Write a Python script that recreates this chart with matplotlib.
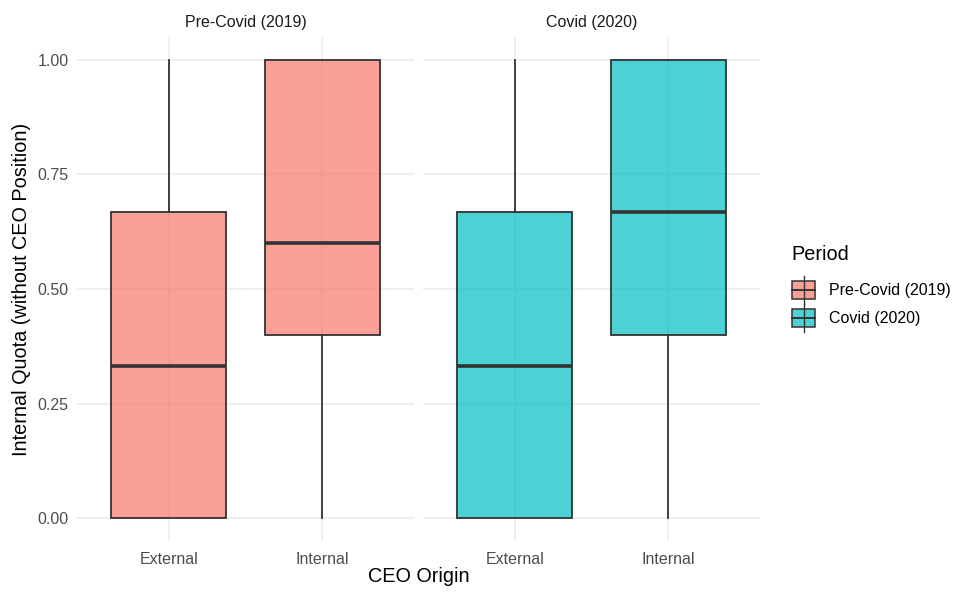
import matplotlib
matplotlib.use("Agg")
import matplotlib.pyplot as plt
from matplotlib.patches import Rectangle
from matplotlib.lines import Line2D

plt.rcParams['font.family'] = ['Liberation Sans', 'DejaVu Sans']

periods = ["Pre-Covid (2019)", "Covid (2020)"]
categories = ["External", "Internal"]
colors = ["#F8766D", "#00BFC4"]
# stats per period per category: whislo, q1, med, q3, whishi
whislo = [[0.0, 0.0], [0.0, 0.0]]
q1 = [[0.0, 0.4], [0.0, 0.4]]
med = [[0.333, 0.6], [0.333, 0.667]]
q3 = [[0.667, 1.0], [0.667, 1.0]]
whishi = [[1.0, 1.0], [1.0, 1.0]]
yticks = [0.0, 0.25, 0.50, 0.75, 1.00]
ytick_labels = ["0.00", "0.25", "0.50", "0.75", "1.00"]

W, H = 954, 592
fig = plt.figure(figsize=(W / 100, H / 100), dpi=100)

panels = [(77, 414), (423, 760)]
top, bottom = 37, 541
edge = "#333333"
grid = "#EBEBEB"
for i, (l, r) in enumerate(panels):
    ax = fig.add_axes([l / W, 1 - bottom / H, (r - l) / W, (bottom - top) / H])
    stats = []
    for j in range(len(categories)):
        stats.append(dict(whislo=whislo[i][j], q1=q1[i][j], med=med[i][j],
                          q3=q3[i][j], whishi=whishi[i][j], fliers=[]))
    ax.set_axisbelow(True)
    bp = ax.bxp(stats, positions=[1, 2], widths=0.75, patch_artist=True,
                showfliers=False, showcaps=False,
                boxprops=dict(facecolor=colors[i], edgecolor=edge, linewidth=1.3),
                medianprops=dict(color=edge, linewidth=2.6, solid_capstyle='butt'),
                whiskerprops=dict(color=edge, linewidth=1.3))
    for b in bp['boxes']:
        b.set_edgecolor(edge)
        b.set_facecolor(matplotlib.colors.to_rgba(colors[i], 0.7))
    ax.set_xlim(0.4, 2.6)
    ax.set_ylim(-0.05, 1.05)
    ax.set_xticks([1, 2])
    ax.set_xticklabels(categories)
    ax.set_yticks(yticks)
    if i == 0:
        ax.set_yticklabels(ytick_labels)
    else:
        ax.set_yticklabels([])
    ax.grid(True, color=grid, linewidth=1.1)
    for s in ax.spines.values():
        s.set_visible(False)
    ax.tick_params(length=0, labelsize=11.5, colors="#4D4D4D", pad=6)
    ax.tick_params(axis='x', pad=8)
    ax.set_title(periods[i], fontsize=11.5, color="#1A1A1A", pad=7)

fig.text((77 + 760) / 2 / W, 1 - 577 / H, "CEO Origin", ha="center", va="center", fontsize=14.3)
fig.text(22 / W, 1 - 289 / H, "Internal Quota (without CEO Position)", ha="center", va="center",
         rotation=90, fontsize=14.3)

# legend drawn in figure pixel coordinates
def fx(x):
    return x / W

def fy(y):
    return 1 - y / H

fig.text(fx(791), fy(255), "Period", ha="left", va="center", fontsize=14.3)
for k, (lab, c) in enumerate(zip(periods, colors)):
    cy = 290 + 28 * k
    x0, x1 = 792, 815
    cx = (x0 + x1) / 2
    fig.add_artist(Line2D([fx(cx), fx(cx)], [fy(cy - 14), fy(cy + 14)], color=edge, linewidth=1.0))
    fig.add_artist(Rectangle((fx(x0), fy(cy + 9)), fx(x1) - fx(x0), fy(cy - 9) - fy(cy + 9),
                             facecolor=matplotlib.colors.to_rgba(c, 0.7), edgecolor=edge, linewidth=1.1))
    fig.add_artist(Line2D([fx(x0), fx(x1)], [fy(cy), fy(cy)], color=edge, linewidth=1.4))
    fig.text(fx(829), fy(cy), lab, ha="left", va="center", fontsize=11.5)

fig.savefig("out.png", dpi=100)
